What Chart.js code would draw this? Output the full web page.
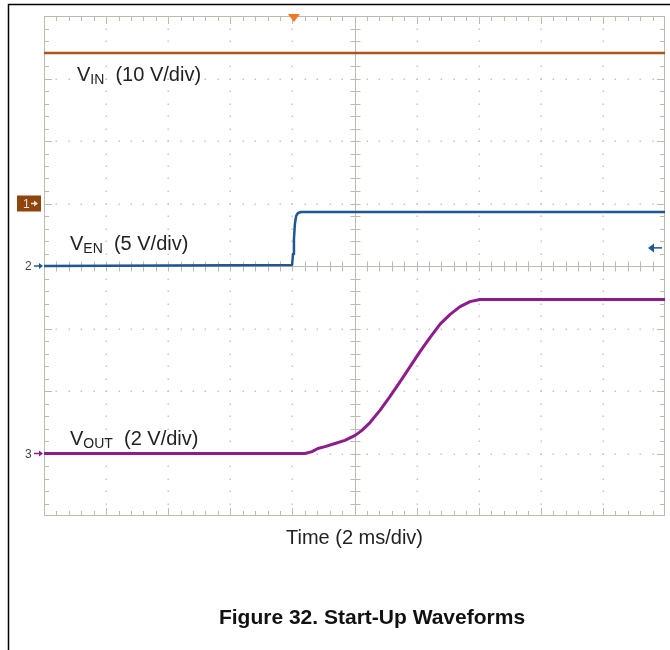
<!DOCTYPE html>
<html>
<head>
<meta charset="utf-8">
<script src="https://cdn.jsdelivr.net/npm/chart.js@4.4.0/dist/chart.umd.min.js"></script>
<style>
  html, body { margin: 0; padding: 0; background: #fff; }
  #wrap { width: 670px; height: 650px; position: relative; }
</style>
</head>
<body>
<div id="wrap"><canvas id="scope" width="670" height="650"></canvas></div>
<script>
// Screen: 10 horizontal divisions at 2 ms/div, 8 vertical divisions
const timeDivs = 10;
const voltDivs = 8;
const msPerDiv = 2;

// Channel settings: V/div and ground marker (divisions from the bottom)
const voltsPerDiv = [10, 5, 2];
const groundDiv = [5, 4, 1];
const traceColors = ['#a9561c', '#1f5792', '#8e1c8c'];

// Channel 1: VIN (V) vs time (ms)
const vinTime = [0, 5, 10, 15, 20];
const vinVolts = [24.1, 24.1, 24.1, 24.1, 24.1];

// Channel 2: VEN (V) vs time (ms)
const venTime = [0, 7.99, 8.02, 8.05, 8.08, 8.12, 8.18, 8.28, 20];
const venVolts = [0, 0.08, 0.96, 2.16, 3.36, 4.0, 4.24, 4.32, 4.32];

// Channel 3: VOUT (V) vs time (ms)
const voutTime = [0, 8.41, 8.63, 8.82, 9.05, 9.37, 9.69, 10.02, 10.24, 10.5, 10.82,
  11.14, 11.47, 11.79, 12.11, 12.43, 12.75, 13.08, 13.4, 13.72, 14.04, 20];
const voutVolts = [0, 0, 0.06, 0.16, 0.22, 0.32, 0.42, 0.58, 0.74, 0.99, 1.38,
  1.82, 2.3, 2.78, 3.26, 3.71, 4.13, 4.45, 4.7, 4.86, 4.93, 4.93];

// Convert a channel's volts into screen divisions
function toDivs(times, volts, ch) {
  return times.map((t, i) => ({ x: t, y: groundDiv[ch] + volts[i] / voltsPerDiv[ch] }));
}

const GRID = '#bdbab0';
const DOT = '#c8c6bc';
const FONT = '"Liberation Sans", Arial, sans-serif';

// Text with a subscript, e.g. V_IN (10 V/div)
function subLabel(ctx, x, y, main, sub, rest) {
  ctx.fillStyle = '#222';
  ctx.textBaseline = 'alphabetic';
  ctx.textAlign = 'left';
  ctx.font = '20px ' + FONT;
  ctx.fillText(main, x, y);
  x += ctx.measureText(main).width;
  ctx.font = '14px ' + FONT;
  ctx.fillText(sub, x, y + 3);
  x += ctx.measureText(sub).width;
  ctx.font = '20px ' + FONT;
  ctx.fillText(rest, x, y);
}

// Oscilloscope graticule, channel markers and captions
const scopeDecor = {
  id: 'scopeDecor',
  beforeDraw(chart) {
    const ctx = chart.ctx;
    ctx.save();
    ctx.fillStyle = '#fff';
    ctx.fillRect(0, 0, chart.width, chart.height);
    // page frame
    ctx.strokeStyle = '#000';
    ctx.lineWidth = 1.5;
    ctx.beginPath();
    ctx.moveTo(8.5, chart.height);
    ctx.lineTo(8.5, 4.5);
    ctx.lineTo(chart.width, 4.5);
    ctx.stroke();
    ctx.restore();
  },
  beforeDatasetsDraw(chart) {
    const ctx = chart.ctx;
    const xs = chart.scales.x, ys = chart.scales.y;
    const a = chart.chartArea;
    const px = d => xs.getPixelForValue(d * msPerDiv);
    const py = d => ys.getPixelForValue(d);
    ctx.save();
    // dotted major division lines
    ctx.fillStyle = DOT;
    for (let i = 1; i < timeDivs; i++) {
      if (i === timeDivs / 2) continue;
      for (let k = 1; k < voltDivs * 5; k++) {
        ctx.fillRect(Math.round(px(i)) - 0.5, Math.round(py(k / 5)) - 0.5, 1.5, 1.5);
      }
    }
    for (let j = 1; j < voltDivs; j++) {
      if (j === voltDivs / 2) continue;
      for (let k = 1; k < timeDivs * 5; k++) {
        ctx.fillRect(Math.round(px(k / 5)) - 0.5, Math.round(py(j)) - 0.5, 1.5, 1.5);
      }
    }
    ctx.strokeStyle = GRID;
    ctx.lineWidth = 1;
    // outer border
    ctx.strokeRect(Math.round(a.left) + 0.5, Math.round(a.top) + 0.5,
      Math.round(a.right - a.left) - 1, Math.round(a.bottom - a.top) - 1);
    // center cross
    const cx = Math.round(px(timeDivs / 2)) + 0.5;
    const cy = Math.round(py(voltDivs / 2)) + 0.5;
    ctx.beginPath();
    ctx.moveTo(cx, a.top); ctx.lineTo(cx, a.bottom);
    ctx.moveTo(a.left, cy); ctx.lineTo(a.right, cy);
    // ticks along border and center cross
    for (let k = 1; k < timeDivs * 5; k++) {
      const x = Math.round(px(k / 5)) + 0.5;
      const len = k % 5 === 0 ? 8 : 5;
      ctx.moveTo(x, a.top); ctx.lineTo(x, a.top + len);
      ctx.moveTo(x, a.bottom); ctx.lineTo(x, a.bottom - len);
      ctx.moveTo(x, cy - 5); ctx.lineTo(x, cy + 5);
    }
    for (let k = 1; k < voltDivs * 5; k++) {
      const y = Math.round(py(k / 5)) + 0.5;
      const len = k % 5 === 0 ? 8 : 5;
      ctx.moveTo(a.left, y); ctx.lineTo(a.left + len, y);
      ctx.moveTo(a.right, y); ctx.lineTo(a.right - len, y);
      ctx.moveTo(cx - 5, y); ctx.lineTo(cx + 5, y);
    }
    ctx.stroke();
    ctx.restore();
  },
  afterDatasetsDraw(chart) {
    const ctx = chart.ctx;
    const xs = chart.scales.x, ys = chart.scales.y;
    const a = chart.chartArea;
    ctx.save();

    // trigger position marker
    const tx = xs.getPixelForValue(8.05);
    ctx.fillStyle = '#f0782a';
    ctx.beginPath();
    ctx.moveTo(tx - 6, a.top - 2);
    ctx.lineTo(tx + 6, a.top - 2);
    ctx.lineTo(tx, a.top + 6);
    ctx.closePath();
    ctx.fill();

    // channel ground markers on the left edge
    function arrow(x0, x1, y, color, head) {
      ctx.strokeStyle = color;
      ctx.fillStyle = color;
      ctx.lineWidth = 1.5;
      const dir = x1 > x0 ? 1 : -1;
      ctx.beginPath();
      ctx.moveTo(x0, y); ctx.lineTo(x1 - 2 * dir, y);
      ctx.stroke();
      ctx.beginPath();
      ctx.moveTo(x1, y);
      ctx.lineTo(x1 - head * dir, y - head * 0.75);
      ctx.lineTo(x1 - head * dir, y + head * 0.75);
      ctx.closePath();
      ctx.fill();
    }
    const g1 = ys.getPixelForValue(groundDiv[0]);
    ctx.fillStyle = '#8e4510';
    ctx.fillRect(17, g1 - 8, 24, 16);
    ctx.font = '12px ' + FONT;
    ctx.textBaseline = 'middle';
    ctx.textAlign = 'left';
    ctx.fillStyle = '#f3e2d2';
    ctx.fillText('1', 23, g1 + 1);
    arrow(31, 38, g1, '#f3e2d2', 4);

    const g2 = ys.getPixelForValue(groundDiv[1]);
    ctx.fillStyle = '#444';
    ctx.font = '12px ' + FONT;
    ctx.fillText('2', 25, g2 + 1);
    arrow(34, 43, g2, traceColors[1], 4);

    const g3 = ys.getPixelForValue(groundDiv[2]);
    ctx.fillStyle = '#444';
    ctx.fillText('3', 25, g3 + 1);
    arrow(34, 43, g3, traceColors[2], 4);

    // channel 2 reference arrow on the right
    arrow(662, 648, ys.getPixelForValue(4.29), traceColors[1], 6);

    // trace labels
    subLabel(ctx, 77, 81, 'V', 'IN', '  (10 V/div)');
    subLabel(ctx, 70, 250, 'V', 'EN', '  (5 V/div)');
    subLabel(ctx, 70, 445, 'V', 'OUT', '  (2 V/div)');

    // axis caption and figure title
    ctx.fillStyle = '#222';
    ctx.textAlign = 'center';
    ctx.textBaseline = 'alphabetic';
    ctx.font = '20px ' + FONT;
    ctx.fillText('Time (2 ms/div)', xs.getPixelForValue(10), 544);
    ctx.fillStyle = '#111';
    ctx.font = 'bold 21px ' + FONT;
    ctx.fillText('Figure 32. Start-Up Waveforms', 372, 624);
    ctx.restore();
  }
};

new Chart(document.getElementById('scope'), {
  type: 'line',
  data: {
    datasets: [
      { label: 'VIN', data: toDivs(vinTime, vinVolts, 0), borderColor: traceColors[0], borderWidth: 2.5 },
      { label: 'VEN', data: toDivs(venTime, venVolts, 1), borderColor: traceColors[1], borderWidth: 2.5 },
      { label: 'VOUT', data: toDivs(voutTime, voutVolts, 2), borderColor: traceColors[2], borderWidth: 3 }
    ]
  },
  options: {
    responsive: false,
    animation: false,
    events: [],
    layout: { padding: { left: 44, top: 16, right: 5, bottom: 134 } },
    elements: { point: { radius: 0 }, line: { tension: 0, borderCapStyle: 'round', borderJoinStyle: 'round' } },
    scales: {
      x: { type: 'linear', min: 0, max: timeDivs * msPerDiv, display: false },
      y: { type: 'linear', min: 0, max: voltDivs, display: false }
    },
    plugins: { legend: { display: false }, tooltip: { enabled: false }, title: { display: false } }
  },
  plugins: [scopeDecor]
});
</script>
</body>
</html>
